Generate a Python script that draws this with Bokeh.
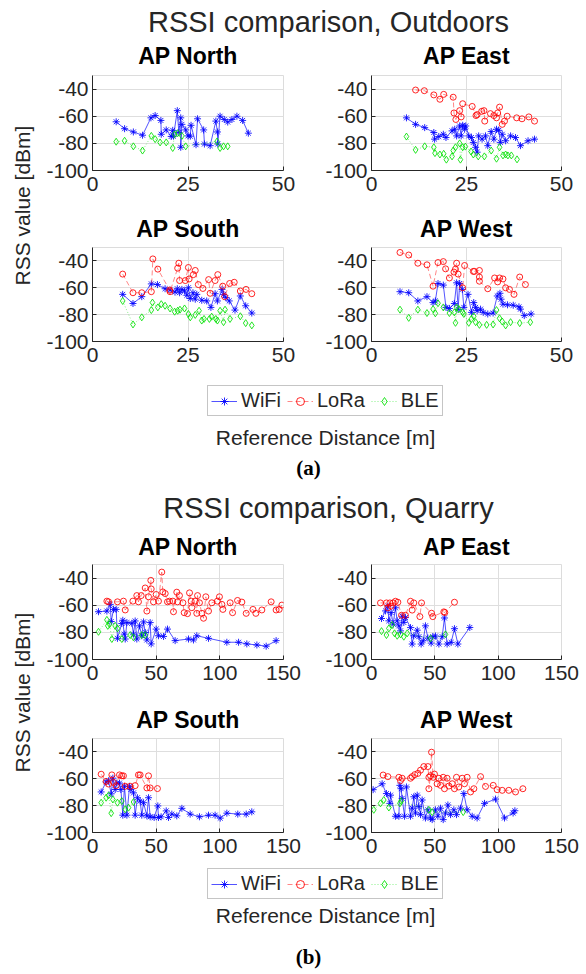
from math import pi
from bokeh.plotting import figure
from bokeh.models import Range1d, FixedTicker, Label, Legend, LegendItem, PrintfTickFormatter
from bokeh.layouts import column, row
from bokeh.embed import file_html
from bokeh.resources import INLINE

SANS = "Liberation Sans"
SERIF = "Liberation Serif"
INK = "#262626"

# ---------------- (a) Outdoors ----------------
out_north_wifi_d = [6.2, 8.4, 10.7, 13.1, 15.3, 16.4, 17.9, 18.0, 19.3, 20.6, 21.0, 21.2, 22.2, 22.6, 23.1, 23.1, 23.4, 24.4, 25.0, 25.6, 25.8, 27.1, 27.5, 29.1, 29.3, 30.8, 32.3, 32.7, 32.8, 33.4, 34.5, 35.4, 36.5, 37.8, 39.3, 40.8]
out_north_wifi_rss = [-64.1, -69.2, -71.6, -74.0, -61.2, -59.5, -63.1, -73.3, -70.1, -74.9, -70.4, -74.7, -55.9, -72.0, -61.2, -82.9, -66.0, -70.1, -74.5, -74.7, -66.7, -81.0, -61.9, -70.1, -80.5, -81.7, -63.6, -71.6, -80.5, -60.0, -62.4, -64.3, -62.4, -60.0, -63.1, -72.5]
out_north_lora_d = []
out_north_lora_rss = []
out_north_ble_d = [6.2, 8.4, 10.7, 13.1, 15.4, 16.4, 17.7, 19.3, 21.0, 21.5, 22.3, 23.4, 24.4, 32.6, 33.4, 34.3, 35.4]
out_north_ble_rss = [-78.8, -78.1, -82.2, -85.3, -74.5, -76.9, -79.3, -79.3, -83.4, -73.3, -72.5, -74.5, -82.2, -78.6, -83.4, -82.2, -82.2]

out_east_wifi_d = [9.2, 11.6, 14.0, 16.4, 16.6, 17.7, 18.9, 19.6, 21.2, 21.9, 22.4, 23.2, 23.6, 24.0, 24.5, 24.8, 25.6, 26.3, 26.8, 27.4, 27.8, 28.2, 29.1, 30.0, 30.6, 31.5, 32.2, 32.9, 33.5, 33.9, 34.4, 35.3, 36.6, 37.9, 39.2, 41.2, 42.9]
out_east_wifi_rss = [-61.2, -66.0, -68.4, -72.0, -76.9, -75.0, -73.3, -75.7, -70.8, -69.6, -74.5, -67.2, -74.5, -66.7, -69.6, -67.2, -74.5, -75.7, -79.3, -82.9, -86.5, -74.5, -76.9, -74.5, -81.7, -71.3, -76.9, -69.6, -70.4, -79.3, -73.3, -78.1, -74.5, -75.7, -81.7, -78.1, -76.9]
out_east_lora_d = [11.6, 13.9, 16.4, 18.0, 19.0, 21.5, 21.7, 22.2, 23.2, 23.6, 24.0, 26.5, 27.5, 27.8, 29.0, 29.6, 29.8, 31.3, 32.2, 32.9, 33.2, 33.7, 34.4, 35.0, 35.7, 38.2, 39.6, 41.4, 42.9]
out_east_lora_rss = [-40.7, -41.2, -44.3, -47.5, -43.9, -46.0, -57.6, -62.4, -55.9, -60.5, -50.8, -52.8, -59.5, -58.8, -56.4, -55.9, -63.6, -58.1, -59.5, -61.2, -57.6, -53.3, -66.0, -63.6, -60.0, -61.2, -61.9, -60.5, -63.6]
out_east_ble_d = [9.2, 11.6, 14.0, 16.4, 16.7, 18.0, 19.0, 19.7, 21.2, 21.5, 22.1, 23.2, 23.4, 24.0, 24.7, 26.2, 26.8, 28.1, 29.7, 31.5, 32.9, 33.7, 34.6, 35.3, 35.9, 36.8, 38.3]
out_east_ble_rss = [-75.0, -84.8, -82.2, -82.9, -87.2, -88.2, -87.7, -92.0, -89.6, -85.3, -82.9, -80.0, -92.0, -82.9, -82.4, -86.0, -88.2, -89.6, -89.6, -85.3, -91.3, -82.9, -88.9, -88.2, -88.9, -88.9, -91.8]

out_south_wifi_d = [7.9, 10.6, 12.9, 15.4, 17.0, 19.0, 20.3, 21.6, 22.2, 22.8, 23.4, 24.1, 24.7, 25.1, 25.6, 26.3, 26.9, 27.3, 28.6, 29.9, 31.0, 32.1, 32.7, 33.9, 34.3, 34.9, 35.8, 37.3, 38.7, 40.1, 41.7]
out_south_wifi_rss = [-64.9, -71.7, -66.6, -57.1, -57.6, -60.7, -61.7, -63.2, -60.7, -63.7, -61.2, -62.4, -65.6, -60.0, -68.0, -63.7, -68.5, -64.9, -69.3, -69.8, -74.6, -64.4, -69.8, -61.2, -64.9, -67.3, -69.8, -76.6, -66.1, -73.4, -78.8]
out_south_lora_d = [7.9, 10.6, 12.9, 15.4, 15.8, 17.1, 20.2, 20.3, 22.3, 22.6, 22.8, 24.3, 25.1, 25.3, 26.4, 26.9, 27.7, 28.9, 30.4, 30.8, 32.1, 32.8, 34.1, 34.6, 35.9, 37.1, 38.7, 40.2, 41.7]
out_south_lora_rss = [-49.8, -63.7, -63.7, -62.9, -38.5, -46.1, -61.7, -62.9, -45.4, -41.7, -54.6, -54.6, -44.9, -53.4, -50.2, -47.1, -57.6, -60.5, -53.9, -64.1, -54.6, -50.2, -58.8, -66.6, -56.8, -55.9, -62.4, -61.2, -64.4]
out_south_ble_d = [7.9, 10.6, 12.9, 15.4, 15.7, 17.1, 18.0, 19.0, 20.3, 21.5, 22.3, 22.9, 24.1, 25.1, 25.6, 26.9, 27.9, 28.6, 29.2, 30.6, 31.2, 32.3, 32.7, 33.4, 34.3, 34.7, 36.0, 38.7, 40.1, 41.7]
out_south_ble_rss = [-69.8, -87.3, -82.0, -76.6, -71.0, -74.6, -72.2, -73.4, -75.4, -77.8, -77.1, -76.3, -75.4, -79.5, -82.0, -80.2, -77.1, -84.4, -83.2, -83.2, -81.5, -83.2, -84.4, -77.1, -85.6, -76.3, -83.2, -81.2, -86.3, -88.0]

out_west_wifi_d = [7.5, 9.8, 12.2, 14.6, 16.2, 16.8, 17.5, 18.9, 19.6, 20.5, 21.8, 22.4, 22.8, 23.2, 23.9, 24.3, 25.4, 26.3, 26.9, 27.4, 27.8, 28.7, 29.4, 30.6, 32.0, 33.1, 33.8, 34.1, 34.6, 35.8, 37.3, 38.8, 39.2, 40.2, 42.0]
out_west_wifi_rss = [-62.9, -63.7, -69.8, -66.6, -71.0, -69.8, -56.8, -58.0, -74.6, -75.4, -71.7, -56.3, -76.1, -56.8, -61.2, -74.6, -64.9, -78.3, -71.0, -74.6, -77.1, -75.9, -78.3, -79.5, -78.8, -66.1, -64.1, -68.5, -72.2, -72.7, -73.0, -74.2, -75.9, -80.7, -79.5]
out_west_lora_d = [7.5, 9.8, 12.2, 14.6, 16.2, 17.5, 18.9, 19.5, 20.5, 21.7, 22.1, 22.4, 22.8, 24.0, 24.5, 26.8, 27.1, 28.4, 28.4, 28.4, 30.6, 32.4, 33.2, 33.7, 34.6, 35.3, 36.3, 37.5, 39.0, 40.5]
out_west_lora_rss = [-33.7, -35.6, -41.7, -42.9, -58.8, -41.2, -40.5, -45.9, -52.7, -48.3, -46.1, -41.7, -49.8, -60.0, -43.4, -47.8, -47.8, -47.1, -52.0, -55.1, -60.7, -52.7, -55.6, -52.7, -53.4, -60.0, -61.2, -64.9, -52.0, -57.6]
out_west_ble_d = [7.5, 9.8, 12.2, 14.6, 16.2, 16.8, 17.5, 18.9, 20.5, 21.8, 22.1, 22.4, 23.0, 24.0, 24.3, 25.6, 26.3, 26.9, 27.4, 28.4, 30.3, 32.0, 32.9, 33.7, 34.4, 35.3, 36.6, 39.0, 41.8]
out_west_ble_rss = [-76.3, -82.4, -76.3, -78.8, -75.9, -79.0, -71.5, -74.6, -78.8, -78.3, -86.1, -74.6, -75.9, -78.3, -79.5, -86.1, -83.2, -81.2, -85.6, -87.6, -87.6, -87.3, -76.6, -82.7, -85.1, -88.0, -85.6, -86.3, -85.6]

# ---------------- (b) Quarry ----------------
qua_north_wifi_d = [4.7, 11.3, 13.9, 14.7, 16.5, 18.6, 19.6, 23.0, 23.8, 24.9, 25.7, 27.0, 30.9, 32.2, 33.5, 34.8, 36.9, 38.7, 40.1, 41.4, 42.7, 45.3, 46.1, 50.0, 51.8, 55.8, 58.9, 64.9, 75.4, 79.3, 81.9, 91.1, 105.5, 114.7, 121.2, 129.1, 136.4, 144.2]
qua_north_wifi_rss = [-64.8, -64.3, -59.4, -72.0, -63.1, -63.1, -84.4, -73.5, -71.1, -81.3, -84.9, -72.8, -73.3, -81.3, -71.6, -84.9, -75.2, -82.5, -72.3, -80.1, -85.6, -72.8, -88.5, -77.6, -82.5, -83.0, -77.6, -86.1, -84.9, -85.6, -82.5, -84.4, -87.3, -87.3, -88.5, -89.3, -90.2, -86.1]
qua_north_lora_d = [11.3, 12.6, 19.6, 24.3, 25.7, 31.7, 34.8, 36.1, 38.2, 41.4, 42.7, 44.0, 45.8, 46.1, 47.9, 50.0, 51.8, 54.4, 55.2, 57.1, 58.9, 60.5, 63.1, 63.6, 66.2, 66.8, 68.3, 71.0, 72.0, 74.6, 76.2, 77.5, 78.0, 80.6, 81.9, 82.5, 84.0, 85.9, 87.2, 89.0, 91.1, 93.7, 98.1, 99.7, 101.6, 102.4, 108.1, 110.0, 113.9, 117.3, 120.7, 126.0, 128.3, 133.0, 140.3, 144.2, 146.6, 148.7]
qua_north_lora_rss = [-57.0, -57.5, -57.5, -57.0, -63.5, -57.0, -52.9, -57.5, -52.9, -47.3, -64.3, -53.8, -41.7, -48.0, -57.5, -52.1, -57.0, -35.6, -50.2, -51.4, -57.5, -57.0, -57.0, -64.8, -50.4, -57.5, -52.9, -58.2, -65.5, -66.2, -50.9, -57.0, -61.8, -57.0, -66.0, -52.9, -58.2, -66.0, -69.6, -53.8, -64.3, -58.2, -57.0, -53.8, -59.4, -63.1, -58.2, -65.5, -56.5, -57.7, -66.0, -63.1, -66.0, -63.5, -57.5, -63.5, -63.1, -59.9]
qua_north_ble_d = [4.7, 11.3, 12.0, 13.4, 15.2, 17.8, 19.6, 23.0, 29.6, 32.2, 38.7, 41.4]
qua_north_ble_rss = [-79.6, -70.8, -75.2, -74.0, -84.9, -75.2, -77.1, -84.9, -82.0, -83.7, -82.0, -82.0]

qua_east_wifi_d = [7.9, 11.1, 12.9, 13.7, 15.5, 17.1, 18.9, 20.3, 21.6, 22.9, 24.2, 25.5, 26.8, 30.8, 32.1, 33.4, 36.1, 37.4, 39.2, 40.8, 42.6, 44.5, 47.1, 48.4, 50.5, 53.2, 55.8, 57.6, 59.7, 62.9, 65.5, 68.2, 77.6]
qua_east_wifi_rss = [-69.8, -64.2, -60.7, -71.5, -65.4, -74.0, -61.9, -71.5, -75.2, -78.9, -68.1, -72.7, -69.1, -76.5, -88.6, -82.5, -78.4, -83.2, -88.6, -86.2, -75.2, -84.2, -87.9, -83.2, -82.7, -88.6, -83.2, -69.4, -88.6, -87.4, -77.3, -88.6, -76.4]
qua_east_lora_d = [7.1, 11.8, 12.9, 14.5, 15.5, 17.1, 18.9, 20.8, 23.7, 26.8, 30.8, 32.1, 33.4, 38.2, 39.5, 47.4, 48.4, 57.1, 57.9, 65.5]
qua_east_lora_rss = [-58.3, -58.3, -61.9, -58.3, -60.7, -58.3, -57.1, -57.8, -67.4, -67.4, -57.1, -63.6, -58.3, -68.4, -58.3, -65.9, -68.4, -64.9, -65.4, -57.8]
qua_east_ble_d = [7.9, 11.8, 13.7, 16.3, 18.2, 20.3, 22.9, 25.5, 28.2, 46.6, 58.4]
qua_east_ble_rss = [-79.1, -82.0, -77.1, -74.6, -80.7, -82.5, -81.5, -83.2, -80.7, -84.4, -81.5]

qua_south_wifi_d = [6.8, 10.7, 12.6, 14.7, 16.0, 17.8, 19.1, 21.2, 22.3, 23.8, 25.1, 27.0, 29.1, 30.1, 32.2, 33.5, 35.3, 37.4, 38.7, 40.1, 42.7, 44.0, 45.3, 48.4, 51.3, 51.8, 53.9, 57.9, 59.7, 62.3, 66.2, 70.2, 76.7, 84.0, 91.1, 96.3, 100.3, 105.5, 114.1, 120.7, 125.1]
qua_south_wifi_rss = [-69.8, -62.4, -61.5, -71.2, -59.5, -68.0, -63.2, -63.2, -68.0, -87.1, -65.6, -87.1, -65.6, -68.0, -70.5, -87.1, -74.1, -76.6, -87.1, -77.8, -87.6, -74.1, -88.3, -88.8, -80.2, -88.8, -88.3, -83.9, -88.8, -86.3, -87.6, -82.0, -86.3, -88.3, -87.1, -87.1, -89.3, -85.6, -86.3, -86.3, -84.6]
qua_south_lora_d = [6.8, 10.7, 12.6, 15.2, 16.5, 18.6, 21.2, 23.0, 24.3, 25.7, 29.6, 33.5, 36.1, 37.4, 42.7, 44.0, 45.3, 51.0]
qua_south_lora_rss = [-56.6, -62.0, -63.9, -57.1, -62.7, -65.1, -57.1, -57.8, -57.8, -65.6, -65.6, -65.1, -57.1, -57.1, -66.8, -57.8, -66.8, -67.3]
qua_south_ble_d = [6.8, 10.7, 12.6, 14.7, 16.0, 19.6, 23.0, 25.7, 28.3, 32.2]
qua_south_ble_rss = [-77.8, -74.1, -72.4, -85.6, -75.4, -77.8, -76.6, -82.7, -81.5, -77.3]

qua_west_wifi_d = [1.3, 8.4, 11.8, 14.5, 15.0, 18.9, 21.6, 22.4, 23.4, 24.2, 26.1, 27.6, 30.8, 32.1, 33.4, 34.7, 36.1, 37.4, 38.7, 40.0, 42.6, 44.5, 46.6, 47.9, 50.5, 52.4, 54.5, 56.6, 58.4, 60.3, 62.4, 65.0, 67.1, 70.3, 72.9, 75.5, 79.5, 83.4, 89.2, 97.9, 105.0, 111.8, 113.2]
qua_west_wifi_rss = [-68.1, -63.7, -71.0, -78.3, -72.2, -87.9, -87.9, -64.9, -67.4, -74.6, -87.9, -66.1, -87.9, -81.9, -73.4, -85.5, -72.2, -80.7, -86.7, -75.8, -89.2, -83.1, -89.2, -90.4, -83.1, -87.9, -81.9, -90.4, -85.5, -79.5, -86.7, -83.1, -86.7, -81.9, -71.0, -83.1, -87.9, -89.2, -78.3, -75.1, -89.2, -85.5, -83.8]
qua_west_lora_d = [9.2, 12.9, 21.6, 22.9, 24.2, 30.8, 32.1, 34.2, 36.6, 38.7, 41.3, 44.5, 45.3, 45.3, 46.6, 47.4, 48.7, 49.7, 51.8, 53.2, 54.5, 56.6, 57.6, 59.7, 61.1, 63.7, 65.5, 67.1, 68.9, 71.6, 73.4, 75.5, 78.2, 80.8, 86.1, 90.0, 96.1, 99.2, 103.2, 108.4, 113.7, 119.5]
qua_west_lora_rss = [-57.2, -58.4, -58.9, -61.3, -59.6, -59.6, -58.4, -56.9, -56.0, -53.6, -50.9, -50.9, -58.9, -67.4, -57.7, -40.2, -58.9, -56.5, -63.7, -59.6, -64.9, -58.9, -67.4, -59.6, -65.4, -63.7, -67.4, -58.9, -66.1, -59.6, -63.7, -58.9, -69.8, -67.4, -58.4, -65.7, -64.9, -68.1, -68.6, -68.6, -69.8, -67.4]
qua_west_ble_d = [1.8, 7.1, 9.7, 13.7, 22.4, 23.4, 45.3, 47.9, 72.4]
qua_west_ble_rss = [-83.1, -78.3, -75.8, -81.4, -78.3, -76.6, -83.1, -84.8, -84.8]

series_names = ["WiFi", "LoRa", "BLE"]
subplot_titles = ["AP North", "AP East", "AP South", "AP West"]
out_xticks = [0, 25, 50]
qua_xticks = [0, 50, 100, 150]
y_ticks = [-100, -80, -60, -40]

STYLE = {
    "WiFi": dict(color="#0000ff", dash="solid", marker="asterisk", size=7, lalpha=0.85),
    "LoRa": dict(color="#ff0000", dash="5 3", marker="circle", size=6, lalpha=0.6),
    "BLE": dict(color="#00e000", dash="1 2", marker="diamond", size=7, lalpha=0.6),
}

# frame centres (page x) of the left and right subplot columns
LEFT_CX = 187.5
RIGHT_CX = 466.0
YLAB_W = 40


def draw_series(p, name, d, r):
    s = STYLE[name]
    ln = p.line(d, r, line_color=s["color"], line_width=0.8, line_dash=s["dash"], line_alpha=s["lalpha"])
    sc = p.scatter(d, r, marker=s["marker"], size=s["size"], line_color=s["color"],
                   fill_color=None, line_width=1, line_alpha=0.85)
    return [ln, sc]


def make_ax(data, xmax, xticks, w, h, bl, br, bt, bb):
    p = figure(width=w, height=h, x_range=Range1d(0, xmax), y_range=Range1d(-100, -30),
               output_backend="svg", toolbar_location=None, title=None,
               min_border_left=bl, min_border_right=br, min_border_top=bt, min_border_bottom=bb)
    p.outline_line_color = "#dcdcdc"
    p.xaxis.ticker = FixedTicker(ticks=xticks)
    p.yaxis.ticker = FixedTicker(ticks=y_ticks)
    p.yaxis.formatter = PrintfTickFormatter(format="%d")
    for ax in (p.xaxis, p.yaxis):
        ax.axis_line_color = INK
        ax.axis_line_width = 1
        ax.major_tick_in = 4
        ax.major_tick_out = 0
        ax.major_tick_line_color = INK
        ax.minor_tick_line_color = None
        ax.major_label_text_font = SANS
        ax.major_label_text_font_size = "21px"
        ax.major_label_text_color = INK
    p.xaxis.major_label_standoff = 6
    p.yaxis.major_label_standoff = 4
    p.grid.grid_line_color = "#dedede"
    p.grid.grid_line_width = 1
    for name, (d, r) in zip(series_names, data):
        draw_series(p, name, d, r)
    return p


def blank(w, h):
    p = figure(width=w, height=h, x_range=Range1d(0, 1), y_range=Range1d(0, 1),
               output_backend="svg", toolbar_location=None, min_border=0,
               x_axis_location=None, y_axis_location=None, title=None)
    p.grid.visible = False
    p.outline_line_color = None
    return p


def add_text(p, h, text, x, y_from_top, size, font=SANS, style="normal", color=INK, angle=0.0):
    p.add_layout(Label(x=x, y=h - y_from_top, x_units="screen", y_units="screen", text=text,
                       text_font=font, text_font_size=size, text_font_style=style,
                       text_color=color, text_align="center", text_baseline="middle", angle=angle))


def text_fig(w, h, text, x, y_from_top, size, **kw):
    p = blank(w, h)
    add_text(p, h, text, x, y_from_top, size, **kw)
    return p


def titles_fig(w, h, x0, y, left_title, right_title):
    p = blank(w, h)
    add_text(p, h, left_title, LEFT_CX - x0, y, "23px", style="bold", color="black")
    add_text(p, h, right_title, RIGHT_CX - x0, y, "23px", style="bold", color="black")
    return p


def legend_fig(w, h, lx, ly, data):
    # legend glyph renderers reuse a panel's series; they lie outside this figure's (0..1) view
    p = blank(w, h)
    items = []
    for name, (d, r) in zip(series_names, data):
        rs = draw_series(p, name, d, r)
        items.append(LegendItem(label=name, renderers=rs))
    leg = Legend(items=items, orientation="horizontal", location=(lx, ly),
                 label_text_font=SANS, label_text_font_size="20px", label_text_color=INK,
                 glyph_width=26, glyph_height=20, label_height=20, label_standoff=4,
                 spacing=6, padding=3, margin=0,
                 border_line_color="#8c8c8c", border_line_width=1, background_fill_alpha=1)
    p.add_layout(leg, "center")
    return p


def panel(sup, caption, data4, xmax, xticks, g):
    # header: suptitle + titles of the upper subplots
    header = titles_fig(586, g["head_h"], 0, g["t1_y"], subplot_titles[0], subplot_titles[1])
    add_text(header, g["head_h"], sup, 328, g["sup_y"], "29px")
    r1h = g["r1_bt"] + 95 + 32
    r2h = g["r2_bt"] + 94 + 34
    n = make_ax(data4[0], xmax, xticks, 280, r1h, 52, 37, g["r1_bt"], 32)
    e = make_ax(data4[1], xmax, xticks, 266, r1h, 51, 25, g["r1_bt"], 32)
    mid = titles_fig(546, g["mid_h"], YLAB_W, g["t2_y"], subplot_titles[2], subplot_titles[3])
    s = make_ax(data4[2], xmax, xticks, 280, r2h, 52, 37, g["r2_bt"], 34)
    w = make_ax(data4[3], xmax, xticks, 266, r2h, 51, 25, g["r2_bt"], 34)
    grid_h = r1h + g["mid_h"] + r2h
    ylab = text_fig(YLAB_W, grid_h, "RSS value [dBm]", 22, g["ylab_y"], "21px", angle=pi / 2)
    grid = row(ylab, column(row(n, e), mid, row(s, w)))
    leg = legend_fig(586, g["leg_h"], 207, g["leg_y"], data4[1])
    xl = text_fig(586, g["xl_h"], "Reference Distance [m]", 325, g["xl_y"], "21px")
    cap = text_fig(586, g["cap_h"], caption, 308, g["cap_y"], "21px", font=SERIF, style="bold", color="black")
    return column(header, grid, leg, xl, cap)


out_data = [
    [(out_north_wifi_d, out_north_wifi_rss), (out_north_lora_d, out_north_lora_rss), (out_north_ble_d, out_north_ble_rss)],
    [(out_east_wifi_d, out_east_wifi_rss), (out_east_lora_d, out_east_lora_rss), (out_east_ble_d, out_east_ble_rss)],
    [(out_south_wifi_d, out_south_wifi_rss), (out_south_lora_d, out_south_lora_rss), (out_south_ble_d, out_south_ble_rss)],
    [(out_west_wifi_d, out_west_wifi_rss), (out_west_lora_d, out_west_lora_rss), (out_west_ble_d, out_west_ble_rss)],
]
qua_data = [
    [(qua_north_wifi_d, qua_north_wifi_rss), (qua_north_lora_d, qua_north_lora_rss), (qua_north_ble_d, qua_north_ble_rss)],
    [(qua_east_wifi_d, qua_east_wifi_rss), (qua_east_lora_d, qua_east_lora_rss), (qua_east_ble_d, qua_east_ble_rss)],
    [(qua_south_wifi_d, qua_south_wifi_rss), (qua_south_lora_d, qua_south_lora_rss), (qua_south_ble_d, qua_south_ble_rss)],
    [(qua_west_wifi_d, qua_west_wifi_rss), (qua_west_lora_d, qua_west_lora_rss), (qua_west_ble_d, qua_west_ble_rss)],
]

geom_a = dict(head_h=68, sup_y=21, t1_y=55, r1_bt=7, mid_h=41, t2_y=26, r2_bt=4, ylab_y=137,
              leg_h=45, leg_y=4, xl_h=32, xl_y=17, cap_h=33, cap_y=15)
geom_b = dict(head_h=75, sup_y=22, t1_y=61, r1_bt=4, mid_h=41, t2_y=28, r2_bt=6, ylab_y=132,
              leg_h=37, leg_y=4, xl_h=29, xl_y=12, cap_h=42, cap_y=24)

pa = panel("RSSI comparison, Outdoors", "(a)", out_data, 50, out_xticks, geom_a)
pb = panel("RSSI comparison, Quarry", "(b)", qua_data, 150, qua_xticks, geom_b)

layout = column(pa, pb)
open("out.html", "w").write(file_html(layout, INLINE))
